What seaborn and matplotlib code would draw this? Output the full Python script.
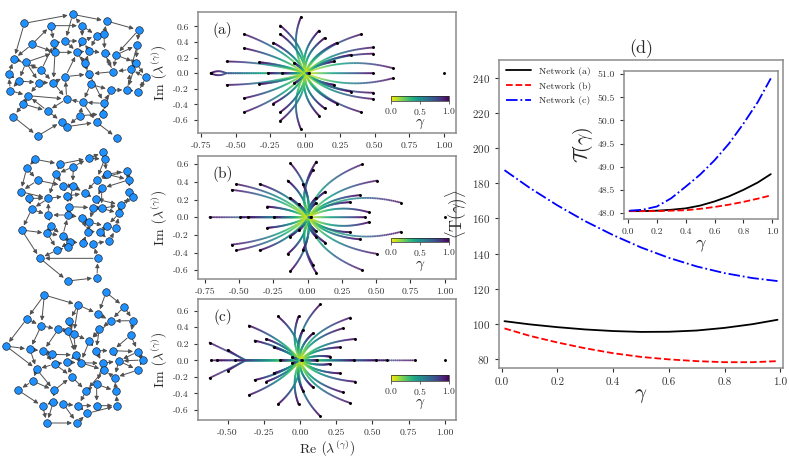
import numpy as np
import pandas as pd
import matplotlib
matplotlib.use("Agg")
import matplotlib.pyplot as plt
import seaborn as sns

""" Data read off the reference picture """

# node positions of the three networks (picture coordinates, 0..450)
net_a_x = [218, 73, 152, 246, 320, 416, 96, 162, 196, 247, 290, 312, 412, 42, 78, 165, 232, 268, 314, 348,
           408, 392, 340, 256, 124, 26, 56, 118, 160, 196, 268, 438, 31, 84, 272, 332, 382, 415, 70, 200,
           248, 312, 40, 143, 240, 308, 185, 200, 290, 113, 350]
net_a_y = [43, 70, 77, 77, 63, 90, 133, 130, 123, 123, 107, 103, 135, 177, 187, 157, 157, 152, 160, 165,
           188, 208, 215, 190, 210, 222, 243, 248, 248, 230, 222, 232, 272, 287, 253, 270, 270, 275, 312, 297,
           307, 310, 350, 333, 347, 342, 365, 380, 367, 408, 413]
net_a_edges = [(1, 0), (0, 4), (4, 5), (2, 3), (3, 0), (1, 13), (5, 12), (12, 20), (20, 31), (31, 37), (6, 2),
               (6, 15), (7, 8), (8, 9), (9, 10), (10, 11), (11, 4), (3, 10), (3, 9), (13, 14), (14, 15), (15, 16),
               (16, 17), (17, 18), (18, 19), (19, 20), (19, 12), (21, 22), (22, 30), (23, 16), (23, 30), (24, 14),
               (24, 28), (25, 13), (25, 26), (26, 27), (27, 28), (28, 29), (29, 30), (30, 34), (34, 35), (35, 36),
               (36, 37), (36, 21), (32, 25), (32, 33), (33, 38), (38, 42), (42, 49), (49, 46), (46, 47), (47, 48),
               (48, 50), (48, 45), (45, 41), (41, 35), (41, 40), (40, 39), (39, 43), (43, 33), (44, 40), (44, 47),
               (43, 46), (39, 29), (34, 40), (22, 18), (21, 20), (17, 9), (7, 15), (6, 13), (14, 26), (27, 33),
               (28, 39), (29, 16), (23, 17), (11, 18), (10, 17), (9, 16), (12, 21), (37, 31), (35, 45), (30, 41),
               (24, 7), (2, 7), (8, 16), (15, 28), (14, 27), (26, 32), (33, 39), (18, 22), (19, 22), (31, 21),
               (5, 19), (0, 8), (16, 30), (23, 34), (44, 45), (40, 48), (38, 43), (13, 24), (20, 36)]

net_b_x = [310, 106, 180, 266, 314, 80, 220, 380, 168, 320, 113, 290, 388, 190, 218, 305, 62, 255, 388, 86,
           145, 200, 288, 400, 208, 280, 305, 362, 95, 145, 205, 245, 358, 268, 152, 320, 348, 65, 142, 188,
           263, 300, 210, 248, 280, 328, 172, 205, 120, 293, 203, 291]
net_b_y = [22, 43, 57, 40, 42, 70, 65, 78, 88, 88, 106, 104, 104, 122, 122, 130, 140, 145, 140, 160,
           160, 153, 162, 155, 185, 188, 190, 180, 193, 210, 210, 218, 205, 232, 243, 243, 250, 255, 265, 272,
           260, 260, 290, 295, 296, 288, 315, 306, 340, 340, 408, 398]
net_b_edges = [(1, 5), (1, 2), (2, 3), (3, 0), (0, 4), (4, 9), (5, 10), (2, 8), (6, 3), (6, 14), (7, 12), (9, 7),
               (9, 11), (11, 15), (12, 18), (18, 23), (8, 13), (10, 13), (10, 16), (16, 19), (19, 20), (20, 21),
               (21, 17), (13, 14), (14, 17), (17, 22), (15, 22), (22, 27), (27, 23), (23, 18), (20, 28), (19, 28),
               (28, 37), (37, 48), (48, 50), (50, 51), (51, 49), (49, 44), (49, 48), (44, 45), (45, 36), (36, 32),
               (32, 27), (29, 34), (34, 38), (38, 39), (39, 42), (42, 43), (43, 44), (46, 48), (46, 47), (47, 42),
               (30, 31), (31, 33), (33, 35), (35, 36), (24, 25), (25, 26), (26, 32), (24, 30), (30, 29), (29, 20),
               (21, 24), (31, 40), (40, 41), (41, 45), (33, 40), (38, 46), (34, 39), (37, 38), (16, 20), (13, 21),
               (11, 17), (15, 26), (25, 33), (41, 35), (43, 40), (12, 15), (7, 11), (4, 11), (8, 20), (5, 16),
               (14, 24), (22, 26), (26, 27), (32, 35), (39, 30), (42, 46), (3, 4), (6, 8), (9, 12), (23, 27),
               (28, 29)]

net_c_x = [133, 318, 235, 372, 295, 80, 208, 332, 400, 124, 175, 203, 221, 298, 392, 18, 268, 90, 130, 155,
           228, 288, 338, 414, 164, 202, 242, 308, 356, 428, 110, 312, 414, 98, 215, 344, 290, 55, 162, 258,
           348, 160, 128, 190, 235, 290, 352, 262, 141, 231]
net_c_y = [30, 22, 60, 65, 87, 102, 107, 108, 107, 122, 133, 137, 147, 133, 150, 183, 168, 193, 198, 208,
           210, 197, 197, 200, 237, 232, 233, 235, 228, 225, 253, 255, 255, 288, 275, 278, 298, 316, 316, 318,
           318, 350, 364, 357, 362, 362, 362, 385, 414, 414]
net_c_edges = [(0, 5), (0, 9), (0, 2), (2, 6), (2, 4), (1, 3), (1, 4), (3, 8), (3, 7), (4, 7), (5, 9), (5, 15),
               (15, 17), (9, 10), (10, 11), (11, 12), (12, 16), (6, 11), (7, 13), (8, 14), (13, 16), (14, 23),
               (16, 21), (21, 22), (22, 23), (23, 29), (29, 32), (17, 18), (18, 19), (19, 20), (20, 26), (26, 27),
               (27, 28), (28, 32), (24, 25), (25, 26), (24, 30), (30, 33), (33, 37), (37, 42), (42, 48), (48, 49),
               (49, 47), (47, 46), (46, 40), (40, 35), (35, 31), (31, 27), (34, 39), (39, 36), (36, 45), (45, 46),
               (41, 43), (43, 44), (44, 45), (41, 42), (38, 41), (38, 34), (34, 25), (30, 38), (33, 38), (36, 40),
               (44, 47), (43, 49), (41, 48), (20, 25), (12, 20), (10, 18), (9, 17), (6, 12), (13, 21), (14, 22),
               (16, 26), (21, 27), (22, 28), (28, 35), (32, 35), (31, 39), (24, 34), (19, 24), (17, 30), (18, 24),
               (8, 7), (11, 20), (26, 31), (27, 36), (39, 44), (29, 28), (23, 28), (15, 30), (2, 12), (7, 16)]

# eigenvalue end points at gamma = 1 (upper half plane; the lower half is the conjugate)
a_re = [-0.03, -0.18, -0.18, -0.44, -0.44, -0.23, -0.33, -0.565, -0.08, 0.10, 0.14, 0.23, 0.405, 0.49, 0.49, 0.33, 0.21, 0.63]
a_im = [0.72, 0.61, 0.50, 0.50, 0.32, 0.39, 0.14, 0.15, 0.13, 0.545, 0.45, 0.39, 0.50, 0.33, 0.25, 0.235, 0.15, 0.065]
a_bend = [0.07, -0.08, -0.08, -0.07, -0.07, -0.07, -0.06, -0.06, -0.06, 0.08, 0.09, 0.09, 0.11, 0.12, 0.12, 0.09, 0.09, 0.15]
a_real = [-0.27, -0.165, 0.03, 0.49]
# real pair that leaves the axis at -0.57 and closes again at -0.68
a_split_re, a_split_im, a_split_at, a_split_g, a_split_bend = [-0.68], [0.0], [-0.57], [0.75], [-0.23]

b_re = [-0.125, 0.064, 0.04, 0.40, 0.507, -0.52, -0.35, -0.553, -0.145, -0.035, -0.13, -0.065, -0.295, 0.13, 0.062, 0.062, 0.38, 0.31, 0.45, 0.68]
b_im = [0.61, 0.63, 0.54, 0.60, 0.415, 0.375, 0.375, 0.31, 0.415, 0.375, 0.22, 0.15, 0.12, 0.29, 0.22, 0.16, 0.25, 0.17, 0.055, 0.165]
b_bend = [-0.08, 0.08, 0.08, 0.12, 0.12, -0.09, -0.09, -0.09, -0.08, -0.06, -0.06, -0.06, -0.07, 0.09, 0.08, 0.08, 0.12, 0.12, 0.15, 0.18]
b_real = [-0.715, -0.49, -0.437, -0.247, 0.028, 0.42]

c_re = [0.14, -0.152, -0.01, 0.348, -0.353, 0.02, 0.09, 0.297, 0.382, -0.313, -0.233, -0.182, 0.274, 0.21, -0.055]
c_im = [0.676, 0.53, 0.53, 0.516, 0.42, 0.366, 0.326, 0.387, 0.258, 0.238, 0.258, 0.157, 0.157, 0.044, 0.036]
c_bend = [0.08, -0.08, 0.06, 0.12, -0.07, 0.06, 0.08, 0.12, 0.12, -0.07, -0.07, -0.06, 0.12, 0.12, -0.03]
c_real = [-0.615, -0.574, -0.447, -0.136, 0.014, 0.118, 0.371, 0.528, 0.601, 0.793]
c_split_re, c_split_im, c_split_at, c_split_g, c_split_bend = [-0.624, -0.50], [0.213, 0.125], [-0.37, -0.38], [0.55, 0.65], [0.0, 0.0]

unit_eig = 1.0  # eigenvalue 1, fixed for every gamma

# panel (d)
gamma_d = [0.01, 0.1, 0.2, 0.3, 0.4, 0.5, 0.6, 0.7, 0.8, 0.9, 0.99]
T_a = [101.6, 99.8, 98.2, 96.9, 96.0, 95.5, 95.6, 96.3, 97.8, 99.9, 102.4]
T_b = [97.5, 93.3, 89.5, 86.2, 83.4, 81.3, 79.9, 78.9, 78.3, 78.3, 78.9]
T_c = [187.4, 177.4, 167.4, 158.4, 150.5, 143.5, 137.6, 132.7, 128.9, 126.1, 124.4]
K_a = [48.04, 48.04, 48.05, 48.07, 48.10, 48.16, 48.25, 48.36, 48.50, 48.66, 48.84]
K_b = [48.04, 48.04, 48.04, 48.05, 48.06, 48.09, 48.13, 48.18, 48.24, 48.31, 48.38]
K_c = [48.05, 48.07, 48.14, 48.32, 48.57, 48.83, 49.14, 49.50, 49.93, 50.40, 50.91]

""" Style """

sns.set_style("ticks")
plt.rcParams["font.family"] = ["cmr10", "DejaVu Serif"]
plt.rcParams["mathtext.fontset"] = "cm"
plt.rcParams["axes.formatter.use_mathtext"] = True
plt.rcParams["axes.unicode_minus"] = True

W, H = 789, 459
fig = plt.figure(figsize=(W / 100, H / 100), dpi=100)


def px_axes(x0, y0, x1, y1):
    # axes from pixel box (top-left origin)
    return fig.add_axes([x0 / W, 1 - y1 / H, (x1 - x0) / W, (y1 - y0) / H])


def grey_spines(ax, lw=1.1):
    for s in ax.spines.values():
        s.set_color("#8c8c8c")
        s.set_linewidth(lw)
    ax.tick_params(colors="#333333", length=3, width=0.8)


""" Networks """

def draw_net(box, xs, ys, edges, size):
    ax = px_axes(*box)
    ax.set_xlim(0, size[0])
    ax.set_ylim(size[1], 0)
    ax.axis("off")
    for s, t in edges:
        ax.annotate("", xy=(xs[t], ys[t]), xytext=(xs[s], ys[s]), annotation_clip=False,
                    arrowprops=dict(arrowstyle="-|>", color="#505050", lw=0.7,
                                    shrinkA=3.3, shrinkB=3.6, mutation_scale=6))
    sns.scatterplot(x=xs, y=ys, s=30, color="#1e90ff", edgecolor="#1a1a1a",
                    linewidth=0.45, zorder=3, ax=ax, legend=False)


draw_net((0, 0, 150, 150), net_a_x, net_a_y, net_a_edges, (450, 450))
draw_net((0, 145, 150, 290), net_b_x, net_b_y, net_b_edges, (450, 435))
draw_net((0, 285, 150, 435), net_c_x, net_c_y, net_c_edges, (450, 450))

""" Eigenvalue trajectories """

n_pts, speed = 60, 1.0


def trajectory(end, split=0.0, g_split=0.0, bend=0.0):
    g = np.linspace(0, 1, n_pts)
    z = np.zeros(n_pts, dtype=complex)
    first = g <= g_split
    if g_split > 0:
        z[first] = split * (g[first] / g_split) ** speed
    t = (g[~first] - g_split) / (1 - g_split)
    u = t ** speed
    chord = end - split
    z[~first] = split + chord * u + bend * 4 * u * (1 - u) * 1j * chord
    return g, z


def eig_panel(box, re, im, bends, reals, splits, lims, label, cbar_box, xlabel=False):
    ax = px_axes(*box)
    zs, gs, ends = [], [], []
    for r, i, b in zip(re, im, bends):
        g, z = trajectory(complex(r, i), bend=b)
        zs += [z, np.conj(z)]
        gs += [g, g]
        ends += [complex(r, i), complex(r, -i)]
    for r in reals:
        g, z = trajectory(complex(r, 0))
        zs.append(z)
        gs.append(g)
        ends.append(complex(r, 0))
    for r, i, s, gsp, b in zip(*splits):
        g, z = trajectory(complex(r, i), split=s, g_split=gsp, bend=b)
        zs += [z, np.conj(z)]
        gs += [g, g]
        ends += [complex(r, i), complex(r, -i)]
    z = np.concatenate(zs)
    g = np.concatenate(gs)
    order = np.argsort(g)
    df = pd.DataFrame({"re": z.real[order], "im": z.imag[order], "gamma": g[order]})
    sns.scatterplot(data=df, x="re", y="im", hue="gamma", palette="viridis_r", hue_norm=(0, 1),
                    s=2.2, linewidth=0, alpha=0.8, legend=False, ax=ax)
    ends.append(complex(unit_eig, 0))
    ends = np.array(ends)
    ax.scatter(ends.real, ends.imag, s=4.5, color="black", zorder=4, linewidths=0)
    ax.set_xlim(*lims[0])
    ax.set_ylim(*lims[1])
    ax.set_yticks([-0.6, -0.4, -0.2, 0.0, 0.2, 0.4, 0.6])
    if lims[0][0] < -0.75:
        ax.set_xticks([-0.75, -0.5, -0.25, 0, 0.25, 0.5, 0.75, 1.0])
    else:
        ax.set_xticks([-0.5, -0.25, 0, 0.25, 0.5, 0.75, 1.0])
    ax.xaxis.set_major_formatter(matplotlib.ticker.FormatStrFormatter("%.2f"))
    ax.yaxis.set_major_formatter(matplotlib.ticker.FormatStrFormatter("%.1f"))
    ax.tick_params(labelsize=7)
    grey_spines(ax)
    ax.set_ylabel(r"Im $\left(\lambda^{(\gamma)}_{\,}\right)$", fontsize=10, labelpad=2)
    ax.set_xlabel(r"Re $\left(\lambda^{(\gamma)}_{\,}\right)$" if xlabel else "", fontsize=10, labelpad=1)
    ax.text(0.095, 0.855, label, transform=ax.transAxes, fontsize=11, va="center", ha="center")

    cax = ax.inset_axes(cbar_box)
    sm = matplotlib.cm.ScalarMappable(norm=matplotlib.colors.Normalize(0, 1), cmap="viridis_r")
    cb = fig.colorbar(sm, cax=cax, orientation="horizontal", ticks=[0, 0.5, 1])
    cb.outline.set_linewidth(0.5)
    cax.tick_params(labelsize=7, length=2, width=0.5, pad=1.5, colors="#333333")
    cax.set_xlabel(r"$\gamma$", fontsize=11, labelpad=0)
    return ax


eig_panel((198, 12, 456, 133), a_re, a_im, a_bend, a_real,
          (a_split_re, a_split_im, a_split_at, a_split_g, a_split_bend),
          ((-0.772, 1.086), (-0.766, 0.784)), "(a)", [0.747, 0.267, 0.227, 0.036])
eig_panel((198, 156, 456, 279), b_re, b_im, b_bend, b_real,
          ([], [], [], [], []),
          ((-0.80, 1.083), (-0.70, 0.694)), "(b)", [0.747, 0.297, 0.227, 0.04])
eig_panel((198, 299, 456, 420), c_re, c_im, c_bend, c_real,
          (c_split_re, c_split_im, c_split_at, c_split_g, c_split_bend),
          ((-0.705, 1.078), (-0.721, 0.741)), "(c)", [0.747, 0.325, 0.227, 0.044], xlabel=True)

""" Panel (d) """

ax = px_axes(499, 60, 783, 368)
styles = [("Network (a)", T_a, "black", "-"), ("Network (b)", T_b, "red", "--"), ("Network (c)", T_c, "blue", "-.")]
for name, vals, col, ls in styles:
    sns.lineplot(x=gamma_d, y=vals, color=col, linestyle=ls, lw=1.3, label=name, ax=ax)
ax.set_xlim(-0.0097, 1.0097)
ax.set_ylim(75, 250)
ax.set_yticks([80, 100, 120, 140, 160, 180, 200, 220, 240])
ax.set_xticks([0, 0.2, 0.4, 0.6, 0.8, 1.0])
ax.xaxis.set_major_formatter(matplotlib.ticker.FormatStrFormatter("%.1f"))
ax.tick_params(labelsize=8)
grey_spines(ax)
ax.set_xlabel(r"$\gamma$", fontsize=15, labelpad=0)
ax.set_ylabel(r"$\langle \mathrm{T}(\gamma) \rangle$", fontsize=12)
ax.yaxis.set_label_coords(-0.105, 0.5)
ax.set_title("(d)", fontsize=13, pad=5)
ax.legend(loc="upper left", frameon=False, fontsize=7, handlelength=2.6, borderaxespad=0.3,
          labelspacing=0.6, handletextpad=0.8)

ins = px_axes(624, 71, 778, 219)
for vals, col, ls in zip([K_a, K_b, K_c], ["black", "red", "blue"], ["-", "--", "-."]):
    sns.lineplot(x=gamma_d, y=vals, color=col, linestyle=ls, lw=1.3, legend=False, ax=ins)
ins.set_ylim(47.87, 51.07)
ins.set_xlim(-0.028, 1.04)
ins.set_yticks([48.0, 48.5, 49.0, 49.5, 50.0, 50.5, 51.0])
ins.set_xticks([0, 0.2, 0.4, 0.6, 0.8, 1.0])
ins.xaxis.set_major_formatter(matplotlib.ticker.FormatStrFormatter("%.1f"))
ins.yaxis.set_major_formatter(matplotlib.ticker.FormatStrFormatter("%.1f"))
ins.tick_params(labelsize=7)
grey_spines(ins)
ins.set_xlabel(r"$\gamma$", fontsize=13, labelpad=1)
ins.set_ylabel(r"$\mathcal{T}(\gamma)$", fontsize=14, labelpad=2)

fig.savefig("out.png", dpi=100)
